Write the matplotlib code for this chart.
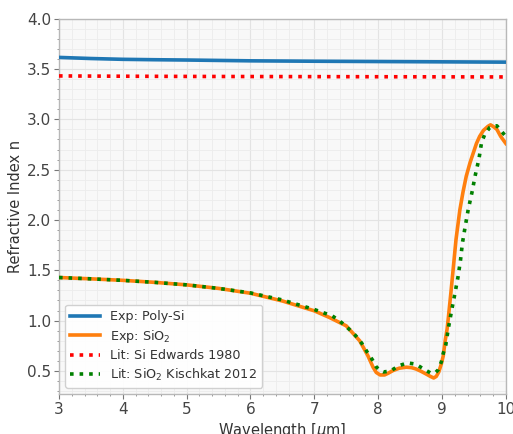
import matplotlib
matplotlib.use("Agg")
import matplotlib.pyplot as plt
from matplotlib.ticker import MultipleLocator

# ---- data ----
polysi_x = [3.0, 3.5, 4.0, 4.5, 5.0, 5.5, 6.0, 7.0, 8.0, 9.0, 10.0]
polysi_n = [3.615, 3.604, 3.596, 3.592, 3.589, 3.585, 3.581, 3.577, 3.574, 3.571, 3.568]

edwards_x = [3.0, 4.0, 5.0, 6.0, 7.0, 8.0, 9.0, 10.0]
edwards_n = [3.431, 3.428, 3.426, 3.425, 3.424, 3.423, 3.422, 3.421]

sio2_x = [3.0, 3.5, 4.0, 4.5, 5.0, 5.5, 6.0, 6.5, 7.0, 7.24, 7.5, 7.71, 7.84, 7.92,
          7.97, 8.03, 8.10, 8.16, 8.23, 8.33, 8.44, 8.52, 8.59, 8.67, 8.75, 8.82,
          8.87, 8.91, 8.95, 8.99, 9.02, 9.05, 9.08, 9.10, 9.14, 9.17, 9.22, 9.28,
          9.33, 9.38, 9.44, 9.49, 9.54, 9.59, 9.65, 9.72, 9.76, 9.80, 9.86, 9.92,
          10.0]
sio2_n = [1.428, 1.415, 1.400, 1.380, 1.355, 1.320, 1.272, 1.195, 1.097, 1.030,
          0.948, 0.800, 0.650, 0.537, 0.485, 0.460, 0.460, 0.478, 0.503, 0.527,
          0.537, 0.533, 0.520, 0.497, 0.470, 0.445, 0.430, 0.445, 0.490, 0.570,
          0.650, 0.800, 0.915, 1.030, 1.280, 1.477, 1.807, 2.100, 2.280, 2.434,
          2.570, 2.665, 2.760, 2.830, 2.890, 2.930, 2.945, 2.930, 2.900, 2.830,
          2.760]

kis_x = [3.0, 3.5, 4.0, 4.5, 5.0, 5.5, 6.0, 6.5, 7.0, 7.28, 7.39, 7.50, 7.59,
         7.69, 7.76, 7.83, 7.91, 7.97, 8.03, 8.08, 8.15, 8.22, 8.33, 8.46, 8.59,
         8.71, 8.82, 8.90, 8.94, 8.99, 9.02, 9.06, 9.10, 9.15, 9.20, 9.25, 9.29,
         9.32, 9.365, 9.41, 9.47, 9.52, 9.58, 9.62, 9.67, 9.75, 9.80, 9.86, 9.91,
         9.96, 10.0]
kis_n = [1.428, 1.415, 1.400, 1.380, 1.355, 1.320, 1.275, 1.205, 1.110, 1.047,
         1.000, 0.940, 0.890, 0.820, 0.760, 0.685, 0.610, 0.540, 0.505, 0.490,
         0.495, 0.510, 0.553, 0.580, 0.567, 0.520, 0.480, 0.485, 0.510, 0.590,
         0.675, 0.760, 0.925, 1.097, 1.260, 1.430, 1.600, 1.770, 1.940, 2.100,
         2.275, 2.440, 2.610, 2.770, 2.850, 2.920, 2.935, 2.935, 2.900, 2.860,
         2.830]

labels = ["Exp: Poly-Si", "Exp: SiO$_2$", "Lit: Si Edwards 1980",
          "Lit: SiO$_2$ Kischkat 2012"]

# ---- figure ----
plt.rcParams['font.family'] = ['DejaVu Sans']
plt.rcParams['mathtext.fontset'] = 'dejavusans'

fig = plt.figure(figsize=(5.13, 4.34), dpi=100)
ax = fig.add_axes([0.115, 0.092, 0.871, 0.865])
ax.set_facecolor('#f8f8f8')

ax.plot(polysi_x, polysi_n, color='#1f77b4', lw=2.6, label=labels[0], zorder=3)
ax.plot(sio2_x, sio2_n, color='#ff7f0e', lw=2.6, label=labels[1], zorder=3)
ax.plot(edwards_x, edwards_n, color='#ff0000', lw=2.6, ls=':', label=labels[2], zorder=4)
ax.plot(kis_x, kis_n, color='#008000', lw=2.6, ls=':', label=labels[3], zorder=4)

ax.set_xlim(3, 10)
ax.set_ylim(0.27, 4.0)
ax.xaxis.set_major_locator(MultipleLocator(1))
ax.xaxis.set_minor_locator(MultipleLocator(0.2))
ax.yaxis.set_major_locator(MultipleLocator(0.5))
ax.yaxis.set_minor_locator(MultipleLocator(0.1))

ax.grid(which='major', color='#e3e3e3', lw=0.8, zorder=0)
ax.grid(which='minor', color='#ececec', lw=0.6, zorder=0)
ax.set_axisbelow(True)

for s in ax.spines.values():
    s.set_color('#b8b8b8')
    s.set_linewidth(1.0)

ax.tick_params(which='major', length=3.5, width=0.8, color='#777777', pad=2,
               labelsize=11, labelcolor='#444444')
ax.tick_params(which='minor', length=1.5, width=0.6, color='#888888')

ax.set_xlabel('Wavelength [$\\mu$m]', fontsize=10.5, color='#333333', labelpad=3)
ax.set_ylabel('Refractive Index n', fontsize=10.5, color='#333333', labelpad=3)

leg = ax.legend(loc='lower left', fontsize=9.2, labelspacing=0.35,
                handlelength=2.3, frameon=True, fancybox=True,
                borderaxespad=0.5)
leg.get_frame().set_edgecolor('#cccccc')
leg.get_frame().set_facecolor('#ffffff')
leg.get_frame().set_alpha(0.9)
for t in leg.get_texts():
    t.set_color('#333333')

fig.savefig('out.png', dpi=100)
